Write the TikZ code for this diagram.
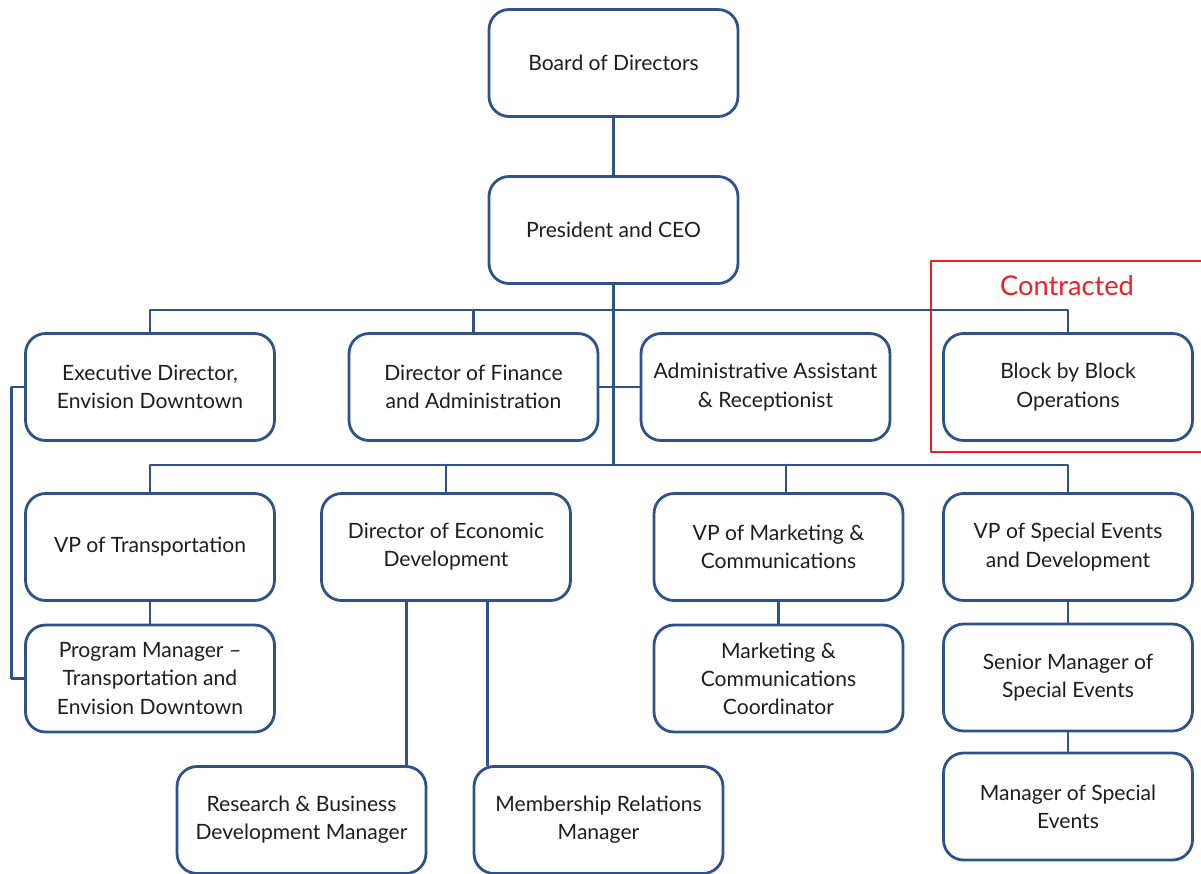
\documentclass[tikz,border=0pt]{standalone}
\usepackage{fontspec}
\setmainfont{Lato}
\definecolor{boxblue}{RGB}{47,82,136}
\definecolor{textgray}{RGB}{30,30,30}
\definecolor{contred}{RGB}{240,30,36}

\begin{document}
\begin{tikzpicture}[x=0.02cm,y=-0.02cm,line width=1.6pt,line cap=round,line join=round,
  box/.style={draw=boxblue,fill=white,rounded corners=0.4cm,minimum width=4.98cm,minimum height=2.14cm,
    align=center,text=textgray,font=\fontsize{12}{16}\selectfont,inner sep=2pt},
  link/.style={draw=boxblue,rounded corners=0pt}]
\useasboundingbox (0,0) rectangle (1201,873);
\clip (0,0) rectangle (1201,873);
\draw[contred,line width=1.3pt] (931,261) rectangle (1215,452);
\node[text=contred,font=\fontsize{15.5}{18}\selectfont] (contracted) at (1067,286) {Contracted};
%top
\node[box] (board) at (613.5,63) {Board of Directors};
\node[box] (pres) at (613.5,230) {President and CEO};
%first row
\node[box] (exec) at (150,387) {Executive Director,\\Envision Downtown};
\node[box] (fin) at (473.5,387) {Director of Finance\\and Administration};
\node[box] (admin) at (765.5,387) {Administrative Assistant\\\& Receptionist};
\node[box] (bbb) at (1068,387) {Block by Block\\Operations};
%second row
\node[box] (vpt) at (150,547) {VP of Transportation};
\node[box] (ded) at (446,547) {Director of Economic\\Development};
\node[box] (vpmc) at (778.5,547) {VP of Marketing \&\\Communications};
\node[box] (vpse) at (1068,547) {VP of Special Events\\and Development};
%lower rows
\node[box] (pm) at (150,678.5) {Program Manager --\\Transportation and\\Envision Downtown};
\node[box] (mcc) at (778.5,678.5) {Marketing \&\\Communications\\Coordinator};
\node[box] (smse) at (1068,677.5) {Senior Manager of\\Special Events};
\node[box] (mse) at (1068,806.5) {Manager of Special\\Events};
\node[box] (rbd) at (301.5,820) {Research \& Business\\Development Manager};
\node[box] (mrm) at (598.5,820) {Membership Relations\\Manager};
\coordinate (bus1) at (613.5,310);
\coordinate (bus2) at (613.5,465);
\draw[link] (board) -- (pres);
\draw[link] (pres.south) -- (bus2);
\draw[link] (exec.north) |- (bus1) -| (bbb.north);
\draw[link] (fin.north) -- (fin.north |- bus1);
\draw[link] (fin.east) -- (admin.west);
\draw[link] (vpt.north) |- (bus2) -| (vpse.north);
\draw[link] (ded.north) -- (ded.north |- bus2);
\draw[link] ([xshift=0.15cm]vpmc.north) -- ([xshift=0.15cm]vpmc.north |- bus2);
\draw[link] (vpt) -- (pm);
\draw[link] (vpmc) -- (mcc);
\draw[link] (vpse) -- (smse);
\draw[link] (smse) -- (mse);
\draw[link] ([xshift=-0.42cm]rbd.north east) -- ([xshift=-0.42cm]rbd.north east |- ded.south);
\draw[link] ([xshift=0.3cm]mrm.north west) -- ([xshift=0.3cm]mrm.north west |- ded.south);
\draw[link] (exec.west) -- ++(-13,0) |- (pm.west);
\end{tikzpicture}
\end{document}
